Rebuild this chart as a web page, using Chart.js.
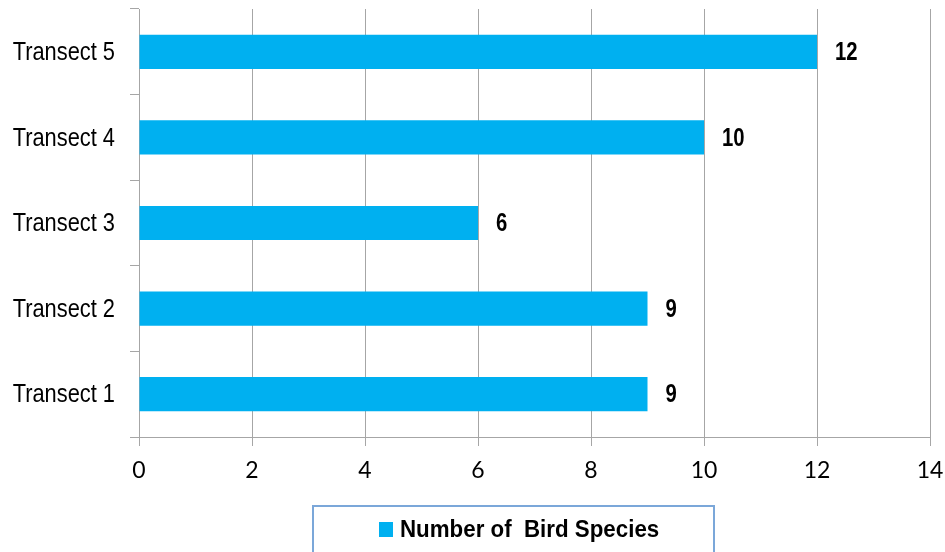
<!DOCTYPE html>
<html>
<head>
<meta charset="utf-8">
<script src="https://cdn.jsdelivr.net/npm/chart.js@4/dist/chart.umd.min.js"></script>
<style>
  html, body { margin: 0; padding: 0; background: #fff; }
  canvas { display: block; }
</style>
</head>
<body>
<canvas id="myChart" width="945" height="552"></canvas>
<script>
var transects = ['Transect 1', 'Transect 2', 'Transect 3', 'Transect 4', 'Transect 5'];
var species_num = [9, 9, 6, 10, 12];
var x_ticks = [0, 2, 4, 6, 8, 10, 12, 14];
var series_name = 'Number of  Bird Species';

var sans = '"Liberation Sans", Arial, sans-serif';

// 模擬 Arial Narrow：水平壓縮
function narrowText(ctx, text, x, y, align, squeeze) {
    ctx.save();
    ctx.translate(x, y);
    ctx.scale(squeeze, 1);
    ctx.textAlign = align;
    ctx.fillText(text, 0, 0);
    ctx.restore();
}

// Y 軸文字 + 數值標籤
const narrowLabels = {
    id: 'narrowLabels',
    afterDatasetsDraw(chart) {
        const ctx = chart.ctx;
        const meta = chart.getDatasetMeta(0);
        const yScale = chart.scales.y;
        ctx.save();
        ctx.fillStyle = '#000';
        ctx.textBaseline = 'middle';
        ctx.font = '26px ' + sans;
        yScale.ticks.forEach(function (t, i) {
            narrowText(ctx, chart.data.labels[i], yScale.right - 24, yScale.getPixelForTick(i) + 1, 'right', 0.84);
        });
        ctx.font = 'bold 26px ' + sans;
        meta.data.forEach(function (bar, i) {
            narrowText(ctx, String(chart.data.datasets[0].data[i]), bar.x + 18, bar.y + 1, 'left', 0.78);
        });
        ctx.restore();
    }
};

// 圖例（有框）
const boxLegend = {
    id: 'boxLegend',
    afterDraw(chart) {
        const ctx = chart.ctx;
        const ds = chart.data.datasets[0];
        ctx.save();
        ctx.strokeStyle = '#7ba7d9';
        ctx.lineWidth = 2;
        ctx.strokeRect(313, 506, 401, 60);
        ctx.fillStyle = ds.backgroundColor;
        ctx.fillRect(379, 522, 14, 15);
        ctx.font = 'bold 24px ' + sans;
        ctx.fillStyle = '#000';
        ctx.textBaseline = 'middle';
        narrowText(ctx, ds.label, 400, 530, 'left', 0.93);
        ctx.restore();
    }
};

const ctx = document.getElementById('myChart');
const mychart = new Chart(ctx, {
    type: 'bar',
    data: {
        labels: transects,
        datasets: [{
            label: series_name,
            data: species_num,
            backgroundColor: '#00B0F0',
            borderWidth: 0,
            categoryPercentage: 0.8,
            barPercentage: 0.5
        }]
    },
    options: {
        indexAxis: 'y',
        responsive: false,
        animation: false,
        devicePixelRatio: 1,
        layout: { padding: { top: 9, right: 15, left: 0, bottom: 0 } },
        plugins: {
            legend: { display: false },
            tooltip: { enabled: false }
        },
        scales: {
            x: {
                min: 0,
                max: 14,
                afterBuildTicks: function (s) {
                    s.ticks = x_ticks.map(function (v) { return { value: v }; });
                },
                afterFit: function (s) {
                    s.height = 115;
                    s.paddingLeft = 0;
                    s.paddingRight = 0;
                },
                grid: {
                    color: '#a6a6a6',
                    lineWidth: 1,
                    tickLength: 9,
                    drawTicks: true
                },
                border: { color: '#a6a6a6', width: 1 },
                ticks: {
                    color: '#000',
                    padding: 11,
                    font: { family: 'Lato, "Open Sans", sans-serif', size: 23 }
                }
            },
            y: {
                reverse: true,
                afterFit: function (s) {
                    s.width = 139;
                    s.paddingTop = 0;
                    s.paddingBottom = 0;
                },
                grid: {
                    drawOnChartArea: false,
                    drawTicks: true,
                    tickLength: 9,
                    offset: true,
                    color: '#a6a6a6'
                },
                border: { color: '#a6a6a6', width: 1 },
                ticks: {
                    color: 'rgba(0,0,0,0)',
                    padding: 15,
                    font: { family: sans, size: 20 }
                }
            }
        }
    },
    plugins: [narrowLabels, boxLegend]
});
</script>
</body>
</html>
